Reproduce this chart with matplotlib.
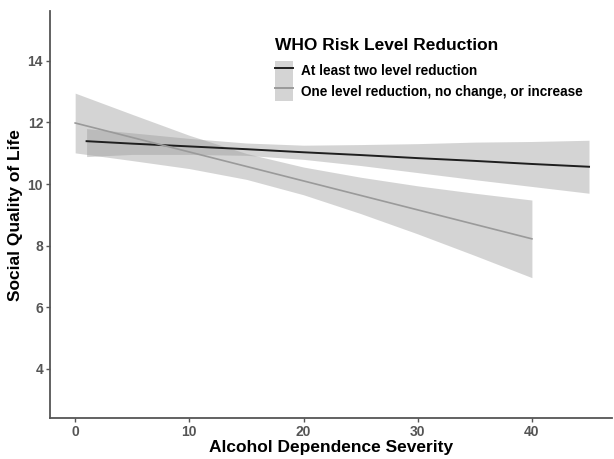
import numpy as np
import matplotlib
matplotlib.use("Agg")
import matplotlib.pyplot as plt
from matplotlib.patches import Patch
from matplotlib.lines import Line2D

plt.rcParams['font.family'] = ['Liberation Sans', 'DejaVu Sans']

# at least two level reduction (fit + band)
x_two = [1, 5, 10, 15, 20, 25, 30, 35, 40, 45]
y_two = [11.39, 11.31, 11.22, 11.13, 11.03, 10.94, 10.84, 10.75, 10.65, 10.56]
lo_two = [10.89, 10.96, 10.96, 10.93, 10.80, 10.60, 10.37, 10.14, 9.92, 9.70]
hi_two = [11.80, 11.66, 11.48, 11.33, 11.26, 11.28, 11.31, 11.36, 11.38, 11.42]

# one level reduction, no change, or increase
x_one = [0, 5, 10, 15, 20, 25, 30, 35, 40]
y_one = [11.98, 11.51, 11.04, 10.57, 10.10, 9.63, 9.16, 8.69, 8.22]
lo_one = [11.01, 10.76, 10.50, 10.15, 9.65, 9.04, 8.38, 7.68, 6.96]
hi_one = [12.95, 12.26, 11.58, 10.99, 10.55, 10.22, 9.94, 9.70, 9.48]

labels = ["At least two level reduction", "One level reduction, no change, or increase"]
line_cols = ["#1e1e1e", "#9a9a9a"]
band_col = "#9a9a9a"

fig = plt.figure(figsize=(6.14, 4.59), dpi=100)
ax = fig.add_axes([0.0815, 0.089, 0.915, 0.886])

ax.fill_between(x_two, lo_two, hi_two, color=band_col, alpha=0.42, lw=0)
ax.fill_between(x_one, lo_one, hi_one, color=band_col, alpha=0.42, lw=0)
ax.plot(x_two, y_two, color=line_cols[0], lw=1.4)
ax.plot(x_one, y_one, color=line_cols[1], lw=1.2)

ax.set_xlim(-2.2, 47)
ax.set_ylim(2.4, 15.6)
ax.set_xticks([0, 10, 20, 30, 40])
ax.set_yticks([4, 6, 8, 10, 12, 14])

for s in ['top', 'right']:
    ax.spines[s].set_visible(False)
for s in ['left', 'bottom']:
    ax.spines[s].set_color('#555555')
    ax.spines[s].set_linewidth(1.3)
ax.tick_params(colors='#555555', length=3, width=1, pad=2)
for t in ax.get_xticklabels() + ax.get_yticklabels():
    t.set_fontfamily(['Liberation Sans Narrow', 'Liberation Sans'])
    t.set_fontweight('bold')
    t.set_fontsize(10)
    t.set_color('#555555')

ax.set_xlabel("Alcohol Dependence Severity", fontsize=12.5, fontweight='bold', labelpad=1)
ax.set_ylabel("Social Quality of Life", fontsize=12.5, fontweight='bold', labelpad=3)

# legend title drawn on its own so the gap to the keys can be set
fig.text(275 / 614, 1 - 45 / 459, "WHO Risk Level Reduction", fontsize=12.5,
         fontweight='bold', va='center', ha='left')

handles = [(Patch(facecolor=band_col, alpha=0.42, lw=0), Line2D([], [], color=c, lw=1.4)) for c in line_cols]
ax.legend(handles, labels, loc='upper left', bbox_to_anchor=(275 / 614, 1 - 61 / 459),
          bbox_transform=fig.transFigure, frameon=False,
          prop={'weight': 'bold', 'size': 9.8}, handlelength=1.33, handleheight=1.9,
          handletextpad=0.6, labelspacing=0, borderpad=0, borderaxespad=0)

fig.savefig("out.png", dpi=100)
